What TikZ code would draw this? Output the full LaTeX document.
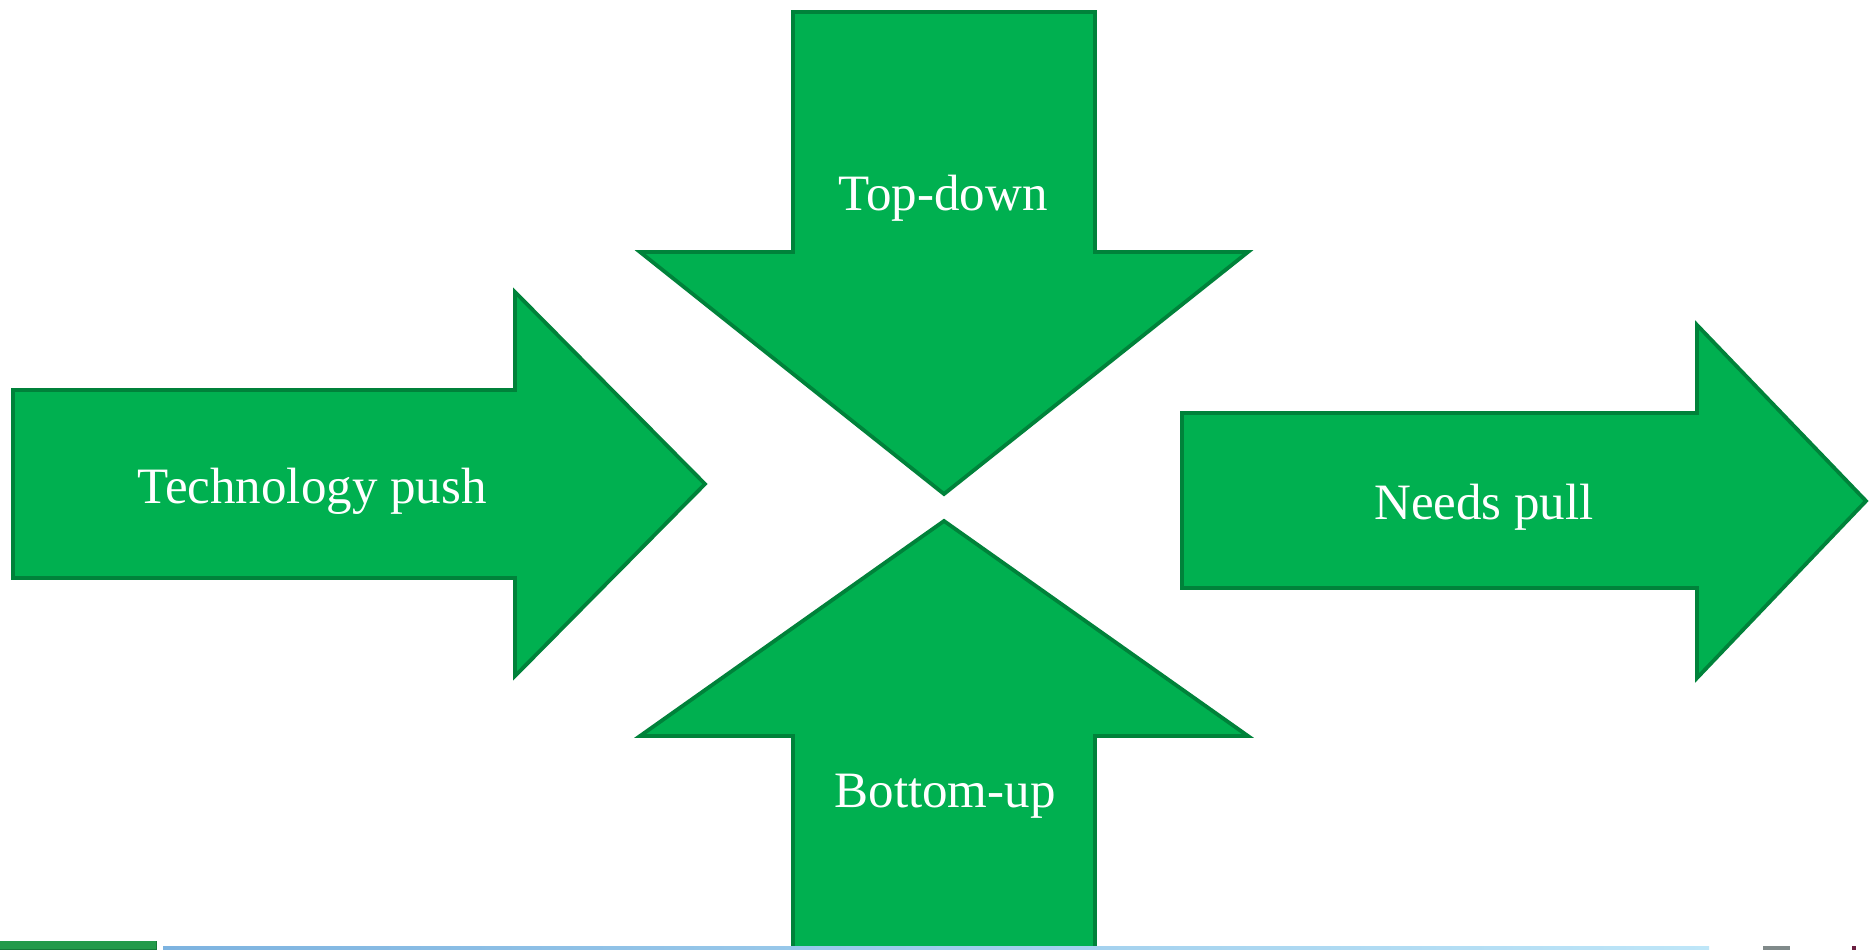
\documentclass[tikz,border=0pt]{standalone}
\usepackage{fontspec}
\setmainfont{Liberation Serif}
\definecolor{arrowfill}{HTML}{00B050}
\definecolor{arrowline}{HTML}{00823A}
\definecolor{footgreen}{HTML}{239A4A}
\definecolor{footgreendark}{HTML}{157A38}
\definecolor{footblueA}{HTML}{7DB3E0}
\definecolor{footblueB}{HTML}{BEE6F8}
\definecolor{footgray}{HTML}{808A8A}
\definecolor{footmaroon}{HTML}{6A1E40}
\tikzset{
  bigarrow/.style={fill=arrowfill, draw=arrowline, line width=3.8pt, line join=miter},
  lbl/.style={text=white, anchor=base, inner sep=0pt, font=\fontsize{51}{60}\selectfont}
}
\begin{document}
\begin{tikzpicture}[x=1pt,y=-1pt]
\useasboundingbox (0,0) rectangle (1869,950);
\fill[white] (0,0) rectangle (1869,950);
\begin{scope}
\clip (0,0) rectangle (1869,950);
% Technology push (right arrow)
\draw[bigarrow] (13,390) -- (515,390) -- (515,292) -- (705,484) -- (515,676) -- (515,578) -- (13,578) -- cycle;
% Top-down (down arrow)
\draw[bigarrow] (793,12) -- (1095,12) -- (1095,252) -- (1248,252) -- (944,494) -- (640,252) -- (793,252) -- cycle;
% Bottom-up (up arrow)
\draw[bigarrow] (793,960) -- (793,736) -- (640,736) -- (944,521) -- (1248,736) -- (1095,736) -- (1095,960);
% Needs pull (right arrow)
\draw[bigarrow] (1182,413) -- (1697,413) -- (1697,325) -- (1866,501) -- (1697,678) -- (1697,588) -- (1182,588) -- cycle;
% footer fragments
\fill[footgreen] (0,941) rectangle (157,950);
\draw[footgreendark, line width=1pt] (0,949) -- (157,949) (156,941) -- (156,950);
\shade[left color=footblueA, right color=footblueB] (163,946) rectangle (1709,950);
\fill[footgray] (1763,946) rectangle (1790,950);
\fill[footmaroon] (1808,952) arc[start angle=180, end angle=0, x radius=17, y radius=7] -- cycle;
\fill[footmaroon] (1852,946) rectangle (1856,950);
\end{scope}
% labels
\node[lbl] (tech) at (312,503) {Technology push};
\node[lbl] (top) at (943,210) {Top-down};
\node[lbl] (needs) at (1484,519) {Needs pull};
\node[lbl] (bottom) at (945,807) {Bottom-up};
\end{tikzpicture}
\end{document}
